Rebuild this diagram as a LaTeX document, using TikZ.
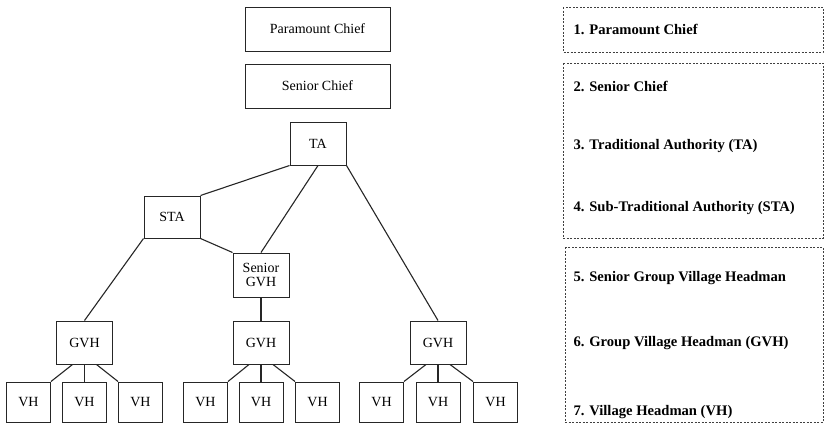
\documentclass[tikz,border=0pt]{standalone}
\usepackage{fontspec}
\setmainfont{Liberation Serif}
\usepackage{tikz}
\usetikzlibrary{positioning, calc}

\begin{document}
\begin{tikzpicture}[x=1pt, y=-1pt,
        rank_box/.style={rectangle, draw=black!85, line width=1pt, fill=white,
        minimum width=#1, minimum height=43pt, align=center, inner sep=1pt,
        font=\fontsize{14}{14.5}\selectfont},
        rank_box/.default=56pt,
        vh_box/.style={rectangle, draw=black!85, line width=1pt,
        minimum width=44pt, minimum height=40pt, font=\fontsize{14}{14.5}\selectfont},
        level_zone/.style={rectangle, draw=black!75, line width=0.7pt,
        dash pattern=on 2pt off 1.5pt},
        level_text/.style={anchor=west, font=\fontsize{14.6}{15}\selectfont\bfseries},
        link/.style={line width=1.1pt, black!85}
            ]

            \useasboundingbox (0,0) rectangle (825,424);

            % Top of the hierarchy
            \node[rank_box=145pt, minimum height=44pt] (paramount) at (317.5, 29) {Paramount Chief};
            \node[rank_box=145pt, minimum height=44pt] (senior)    at (317.5, 86) {Senior Chief};

            % Authorities
            \node[rank_box] (ta)   at (318, 143.5) {TA};
            \node[rank_box, minimum height=42pt] (sta)  at (172, 217) {STA};
            \node[rank_box, minimum height=44pt] (sgvh) at (261, 275) {Senior\\[-1pt]GVH};

            % Group village headmen
            \node[rank_box] (gvh_l) at (84.5, 342.5) {GVH};
            \node[rank_box] (gvh_m) at (261, 342.5)  {GVH};
            \node[rank_box] (gvh_r) at (438, 342.5)  {GVH};

            % Village headmen
            \node[vh_box] (vh_l1) at (28.5, 402)  {VH};
            \node[vh_box] (vh_l2) at (84.5, 402)  {VH};
            \node[vh_box] (vh_l3) at (140.5, 402) {VH};
            \node[vh_box] (vh_m1) at (205.5, 402) {VH};
            \node[vh_box] (vh_m2) at (261, 402)   {VH};
            \node[vh_box] (vh_m3) at (317.5, 402) {VH};
            \node[vh_box] (vh_r1) at (381.5, 402) {VH};
            \node[vh_box] (vh_r2) at (438, 402)   {VH};
            \node[vh_box] (vh_r3) at (495.5, 402) {VH};

            % Connections
            \draw[link] (ta.south west) -- (sta.north east);
            \draw[link] (ta.south)      -- (sgvh.north);
            \draw[link] (ta.south east) -- (gvh_r.north);
            \draw[link] (sta.south west) -- (gvh_l.north);
            \draw[link] (sta.south east) -- (sgvh.north west);
            \draw[link] (sgvh.south)    -- (gvh_m.north);

            \draw[link] ([xshift=-12pt]gvh_l.south) -- (vh_l1.north east);
            \draw[link] (gvh_l.south)               -- (vh_l2.north);
            \draw[link] ([xshift=12pt]gvh_l.south)  -- (vh_l3.north west);
            \draw[link] ([xshift=-12pt]gvh_m.south) -- (vh_m1.north east);
            \draw[link] (gvh_m.south)               -- (vh_m2.north);
            \draw[link] ([xshift=12pt]gvh_m.south)  -- (vh_m3.north west);
            \draw[link] ([xshift=-12pt]gvh_r.south) -- (vh_r1.north east);
            \draw[link] (gvh_r.south)               -- (vh_r2.north);
            \draw[link] ([xshift=12pt]gvh_r.south)  -- (vh_r3.north west);

            % Level legend
            \draw[level_zone] (563, 7)   rectangle (823, 52);
            \draw[level_zone] (563, 63)  rectangle (823, 238);
            \draw[level_zone] (565, 247) rectangle (823, 422);

            \node[level_text] (lvl1) at (570, 29)  {1. Paramount Chief};
            \node[level_text] (lvl2) at (570, 86)  {2. Senior Chief};
            \node[level_text] (lvl3) at (570, 146) {3. Traditional Authority (TA)};
            \node[level_text] (lvl4) at (570, 208) {4. Sub-Traditional Authority (STA)};
            \node[level_text] (lvl5) at (570, 278) {5. Senior Group Village Headman};
            \node[level_text] (lvl6) at (570, 343) {6. Group Village Headman (GVH)};
            \node[level_text] (lvl7) at (570, 412) {7. Village Headman (VH)};

        \end{tikzpicture}
\end{document}
